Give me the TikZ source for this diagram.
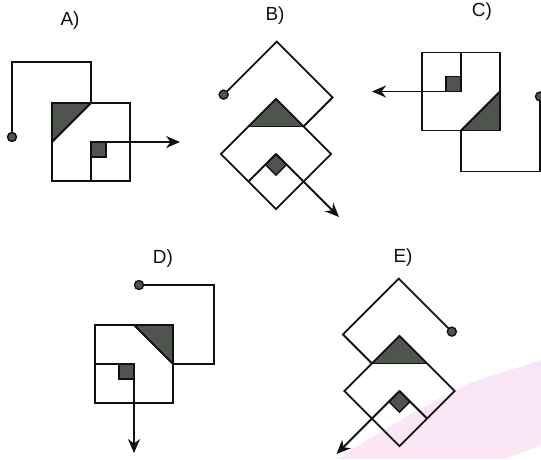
\documentclass[tikz,border=0pt]{standalone}
\usepackage{fontspec}
\setmainfont{Liberation Sans}
\usetikzlibrary{arrows.meta}
\definecolor{figgray}{HTML}{4F544F}
\definecolor{ink}{HTML}{111111}
\definecolor{smudge}{HTML}{FAE6F5}
\tikzset{
  ln/.style={draw=ink,line width=1.8pt,line join=miter},
  lbl/.style={font=\fontsize{19}{21}\selectfont,text=ink},
  fig/.pic={
    \fill[figgray] (-39,-39)--(0,-39)--(-39,0)--cycle;
    \draw[ln] (-39,0)--(0,-39);
    \filldraw[fill=figgray,draw=ink,line width=1.4pt] (0,0) rectangle (15,15);
    \draw[ln] (-39,-39) rectangle (39,39);
    \draw[ln] (0,39)--(0,0);
    \draw[ln,-{Stealth[length=14pt,width=12pt,inset=4.5pt]}] (0,0)--(89,0);
    \draw[ln] (0,-39)--(0,-80)--(-79,-80)--(-79,-5);
    \filldraw[fill=figgray,draw=ink,line width=1.4pt] (-79,-5) circle[radius=4.5];
  }
}
\begin{document}
\begin{tikzpicture}[x=1pt,y=-1pt]
\useasboundingbox (0,0) rectangle (541,459);
% background smudge
\fill[smudge] (338,459) .. controls (380,430) and (430,403) .. (470,383)
  -- (541,360) -- (541,445) -- (505,459) -- cycle;
% labels
\node[lbl] (la) at (70,21) {A)};
\node[lbl] (lb) at (275,16) {B)};
\node[lbl] (lc) at (482,12) {C)};
\node[lbl] (ld) at (163,259) {D)};
\node[lbl] (le) at (403,258) {E)};
% figures
\begin{scope}[shift={(91,142)}] \pic[transform shape] {fig}; \end{scope}
\begin{scope}[shift={(276,154)},rotate=-45] \pic[transform shape] {fig}; \end{scope}
\begin{scope}[shift={(461,91.5)},rotate=180] \pic[transform shape] {fig}; \end{scope}
\begin{scope}[shift={(134,364)},rotate=-90] \pic[transform shape] {fig}; \end{scope}
\begin{scope}[shift={(399.5,391)},xscale=-1,rotate=-45] \pic[transform shape] {fig}; \end{scope}
\end{tikzpicture}
\end{document}
